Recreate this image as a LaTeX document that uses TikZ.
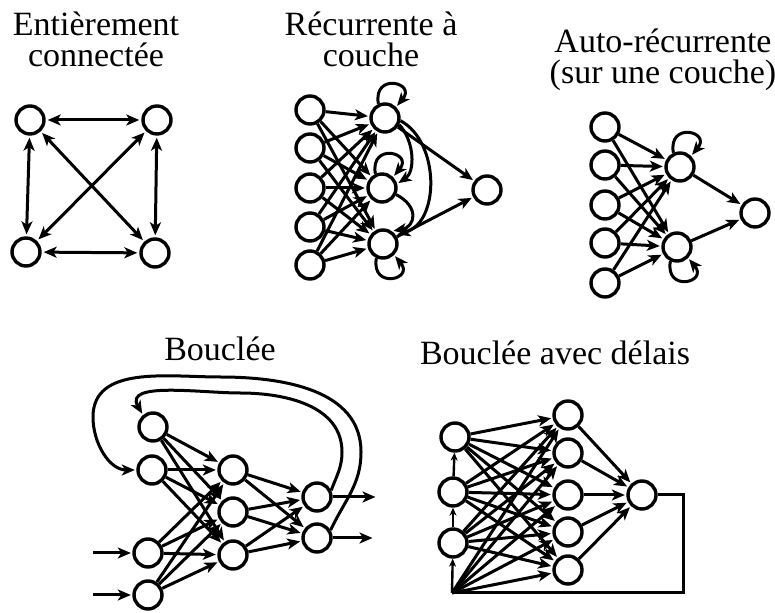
\documentclass[tikz,border=0pt]{standalone}
\usepackage{fontspec}
\setmainfont{Liberation Serif}
\usetikzlibrary{arrows.meta}

\tikzset{
  neurone/.style={circle,draw,line width=3.4pt,minimum size=28pt,inner sep=0pt},
  lien/.style={line width=3pt,shorten >=1.5pt,-{Stealth[length=13pt,width=11pt,inset=3.5pt]}},
  double lien/.style={line width=3pt,shorten >=2pt,shorten <=2pt,{Stealth[length=13pt,width=11pt,inset=3.5pt]}-{Stealth[length=13pt,width=11pt,inset=3.5pt]}},
  petit lien/.style={line width=2.4pt,-{Stealth[length=8pt,width=7pt]}},
  trait/.style={line width=3pt},
  titre/.style={align=center,font=\fontsize{34}{31}\selectfont,inner sep=0pt,anchor=north}
}

\begin{document}
\begin{tikzpicture}[x=1pt,y=1pt]
\useasboundingbox (0,0) rectangle (775,612);

% titres
\node[titre] (titreA) at (96,600) {Entièrement\\connectée};
\node[titre] (titreB) at (371,600) {Récurrente à\\couche};
\node[titre] (titreC) at (663,583) {Auto-récurrente\\(sur une couche)};
\node[titre] (titreD) at (220,275) {Bouclée};
\node[titre] (titreE) at (555,271) {Bouclée avec délais};

% entierement connectee
\node[neurone] (a1) at (30,492) {};
\node[neurone] (a2) at (157,492) {};
\node[neurone] (a3) at (26,360) {};
\node[neurone] (a4) at (155,359) {};
\foreach \i/\j in {a1/a2,a3/a4,a1/a3,a2/a4,a1/a4,a2/a3}
  \draw[double lien] (\i) -- (\j);

% recurrente a couche
\foreach \n/\y in {1/502,2/464,3/424,4/385,5/347}
  \node[neurone] (b\n) at (310,\y) {};
\node[neurone] (c1) at (385,494) {};
\node[neurone] (c2) at (382,424) {};
\node[neurone] (c3) at (383,368) {};
\node[neurone] (d) at (487,422) {};
\foreach \i in {1,...,5}
  \foreach \j in {1,2,3}
    \draw[lien] (b\i) -- (c\j);
\draw[lien] (c1) -- (d);
\draw[lien] (c3) -- (d);
\draw[lien] (c1.115) .. controls +(100:32) and +(50:32) .. (c1.45);
\draw[lien] (c2.115) .. controls +(100:32) and +(50:32) .. (c2.45);
\draw[lien] (c3.-115) .. controls +(-100:32) and +(-50:32) .. (c3.-45);
\draw[lien] (c1.-25) .. controls (415,470) and (415,440) .. (c2.15);
\draw[lien] (c1.-10) .. controls (440,470) and (440,390) .. (c3.35);
\draw[lien] (c2.-25) .. controls (420,405) and (415,385) .. (c3.55);

% auto-recurrente
\foreach \n/\y in {1/485,2/447,3/407,4/369,5/329}
  \node[neurone] (e\n) at (605,\y) {};
\node[neurone] (f1) at (680,445) {};
\node[neurone] (f2) at (677,365) {};
\node[neurone] (g) at (755,399) {};
\foreach \i in {1,...,5}
  \foreach \j in {1,2}
    \draw[lien] (e\i) -- (f\j);
\draw[lien] (f1) -- (g);
\draw[lien] (f2) -- (g);
\draw[lien] (f1.115) .. controls +(100:32) and +(50:32) .. (f1.45);
\draw[lien] (f2.-115) .. controls +(-100:32) and +(-50:32) .. (f2.-45);

% bouclee
\node[neurone] (p1) at (153,185) {};
\node[neurone] (p2) at (152,142) {};
\node[neurone] (p3) at (148,59) {};
\node[neurone] (p4) at (148,17) {};
\node[neurone] (q1) at (233,142) {};
\node[neurone] (q2) at (233,100) {};
\node[neurone] (q3) at (233,57) {};
\node[neurone] (r1) at (317,115) {};
\node[neurone] (r2) at (317,74) {};
\coordinate (entree3) at (93,59);
\coordinate (entree4) at (93,17);
\coordinate (sortie1) at (377,115);
\coordinate (sortie2) at (374,74);
\foreach \i in {1,...,4}
  \foreach \j in {1,2,3}
    \draw[lien] (p\i) -- (q\j);
\foreach \i in {1,2,3}
  \foreach \j in {1,2}
    \draw[lien] (q\i) -- (r\j);
\draw[lien] (entree3) -- (p3);
\draw[lien] (entree4) -- (p4);
\draw[lien] (r1) -- (sortie1);
\draw[lien] (r2) -- (sortie2);
\draw[lien] (r1.25) to[out=70,in=-90] (342,160) to[out=90,in=0] (240,219)
  to[out=180,in=120] (p1.130);
\draw[lien] (r2.30) to[out=65,in=-90] (361,160) to[out=90,in=0] (220,235)
  to[out=180,in=90] (93,195) to[out=-90,in=180] (p2.west);

% bouclee avec delais
\node[neurone] (s1) at (455,175) {};
\node[neurone] (s2) at (453,120) {};
\node[neurone] (s3) at (453,69) {};
\foreach \n/\y in {1/197,2/159,3/117,4/80,5/42}
  \node[neurone] (t\n) at (568,\y) {};
\node[neurone] (u) at (642,117) {};
\coordinate (coin) at (452,19);
\foreach \i in {1,2,3}
  \foreach \j in {1,...,5}
    \draw[lien] (s\i) -- (t\j);
\foreach \j in {1,...,5}
  \draw[lien] (coin) -- (t\j);
\foreach \j in {1,...,5}
  \draw[lien] (t\j) -- (u);
\draw[petit lien] (coin) -- (s3);
\draw[petit lien] (s3) -- (s2);
\draw[petit lien] (s2) -- (s1);
\draw[trait] (u.east) -- ++(26,0) |- (coin);
\end{tikzpicture}
\end{document}
